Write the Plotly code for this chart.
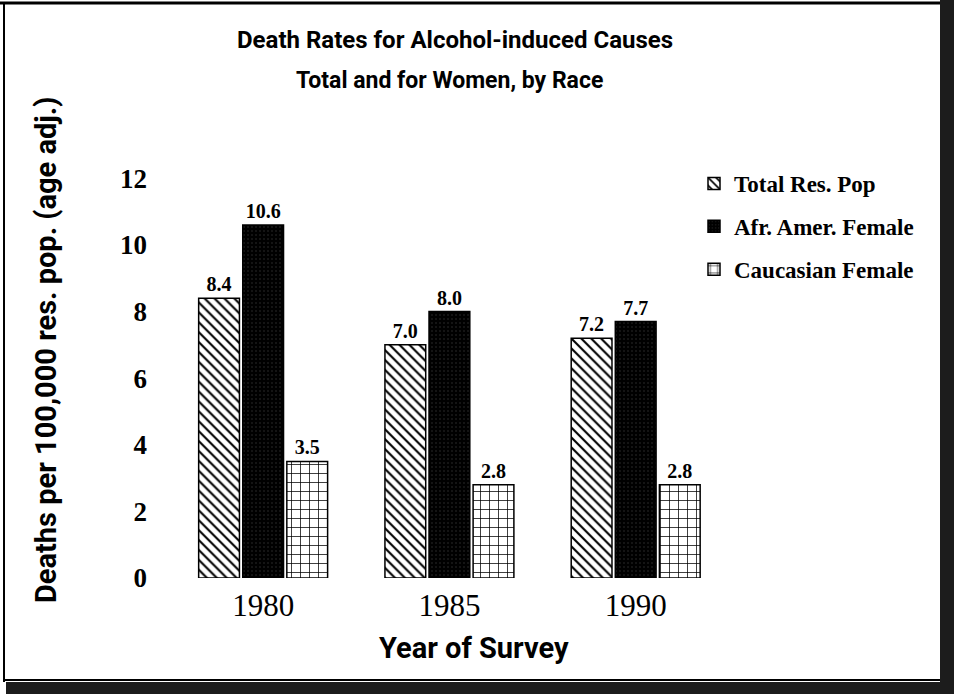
import plotly.graph_objects as go

# Survey years and age-adjusted death rates (per 100,000 resident population)
years = ["1980", "1985", "1990"]
total_res_pop = [8.4, 7.0, 7.2]
afr_amer_female = [10.6, 8.0, 7.7]
caucasian_female = [3.5, 2.8, 2.8]
series_names = ["Total Res. Pop", "Afr. Amer. Female", "Caucasian Female"]
y_ticks = [0, 2, 4, 6, 8, 10, 12]

W, H = 954, 694
ML, MR, MT, MB = 170, 24, 145, 116
PW, PH = W - ML - MR, H - MT - MB

def px_x(p):
    return (p - ML) / PW

def px_y(p):
    return (H - MB - p) / PH

serif = "Liberation Serif, Times New Roman, serif"
cond = "Roboto, Arial, sans-serif"

patterns = [
    dict(shape="\\", fgcolor="black", bgcolor="white", size=7, solidity=0.3, fillmode="replace"),
    dict(shape=".", fgcolor="#3a3a3a", bgcolor="black", size=4, solidity=0.08, fillmode="replace"),
    dict(shape="+", fgcolor="black", bgcolor="white", size=9, solidity=0.16, fillmode="replace"),
]

fig = go.Figure()
for i, (name, vals) in enumerate(zip(series_names, [total_res_pop, afr_amer_female, caucasian_female])):
    fig.add_trace(go.Bar(
        x=years, y=vals, name=name, legendgroup=name,
        marker=dict(color="white" if i != 1 else "black",
                    line=dict(color="black", width=1.5),
                    pattern=patterns[i]),
        text=[f"{v:.1f}" for v in vals], textposition="outside",
        textfont=dict(family=serif, size=20, color="black", weight="bold"),
        cliponaxis=False,
    ))

def label(text, x, y, size, angle=0):
    return dict(text=text, xref="paper", yref="paper", x=px_x(x), y=px_y(y),
                xanchor="center", yanchor="middle", showarrow=False, textangle=angle,
                font=dict(family=cond, size=size, color="black", weight="bold"))

fig.update_layout(
    width=W, height=H,
    margin=dict(l=ML, r=MR, t=MT, b=MB),
    paper_bgcolor="white", plot_bgcolor="white",
    barmode="group", bargap=0.29, bargroupgap=0.075,
    showlegend=True,
    legend=dict(x=px_x(694), y=px_y(162), xanchor="left", yanchor="top",
                font=dict(family=serif, size=23, color="black", weight="bold"),
                tracegroupgap=10, bgcolor="rgba(0,0,0,0)"),
    xaxis=dict(range=[-0.5, 3.58], showgrid=False, showline=False, ticks="",
               tickfont=dict(family=serif, size=31, color="black"),
               ticklabelstandoff=6),
    yaxis=dict(range=[0, 13], tickvals=y_ticks, showgrid=False, showline=False,
               zeroline=False, ticks="",
               tickfont=dict(family=serif, size=27, color="black", weight="bold"),
               ticklabelstandoff=22),
    annotations=[
        label("Death Rates for Alcohol-induced Causes", 455, 40, 24),
        label("Total and for Women, by Race", 449, 80, 23),
        label("Year of Survey", 474, 648, 29),
        label("Deaths per 100,000 res. pop. (age adj.)", 46, 350, 29, angle=-90),
    ],
)

# page frame: thin rule left and top, heavy dark edge on right and bottom
shapes = [
    dict(type="line", x0=px_x(4), x1=px_x(4), y0=px_y(2), y1=px_y(682),
         line=dict(color="black", width=2)),
    dict(type="line", x0=px_x(0), x1=px_x(944), y0=px_y(3), y1=px_y(3),
         line=dict(color="black", width=3)),
    dict(type="line", x0=px_x(4), x1=px_x(944), y0=px_y(680), y1=px_y(680),
         line=dict(color="black", width=2)),
    dict(type="rect", x0=px_x(940), x1=px_x(W), y0=px_y(0), y1=px_y(H),
         fillcolor="#1c1c1c", line=dict(width=0)),
    dict(type="rect", x0=px_x(6), x1=px_x(W), y0=px_y(682), y1=px_y(H),
         fillcolor="#1c1c1c", line=dict(width=0)),
]
for s in shapes:
    s.update(xref="paper", yref="paper", layer="above")
fig.update_layout(shapes=shapes)

fig.write_html("out.html")
